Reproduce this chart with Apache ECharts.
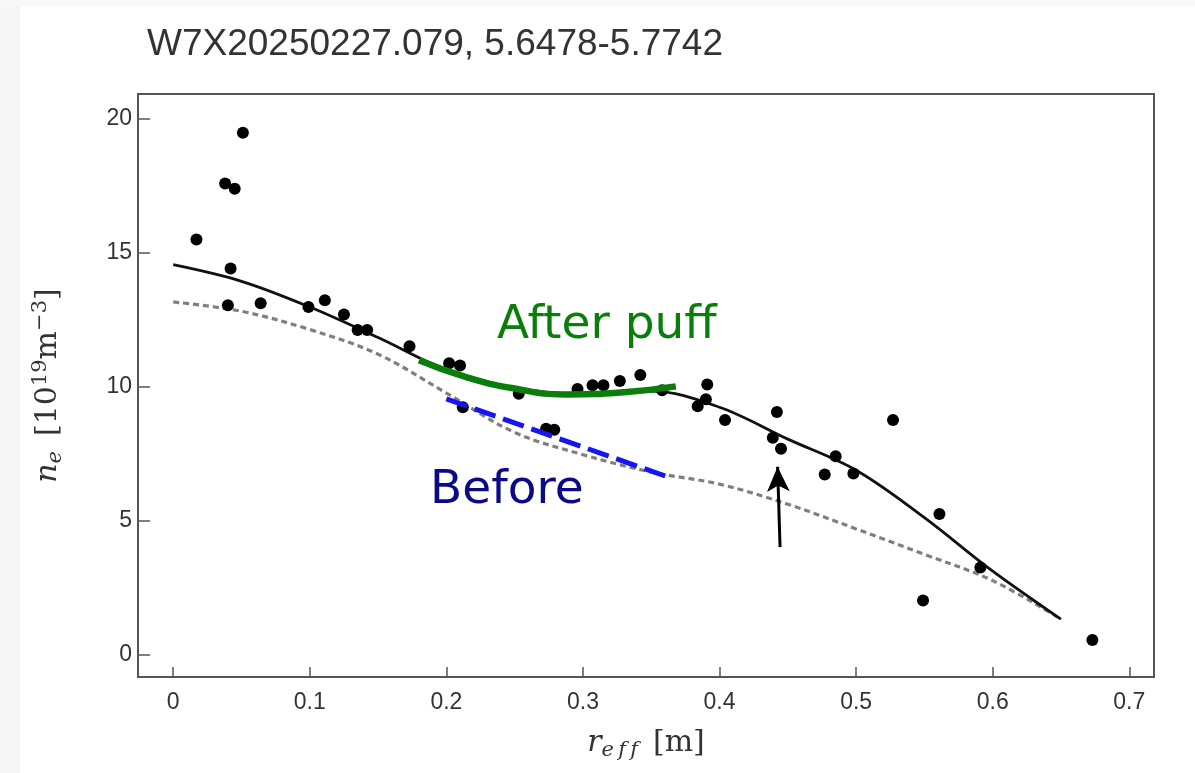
<!DOCTYPE html>
<html>
<head>
<meta charset="utf-8">
<script src="https://cdn.jsdelivr.net/npm/echarts@6/dist/echarts.min.js"></script>
<style>
html, body { margin: 0; padding: 0; background: #fff; }
#main { width: 1195px; height: 773px; }
</style>
</head>
<body>
<div id="main"></div>
<script>
// tick labels
var xTicks = [0, 0.1, 0.2, 0.3, 0.4, 0.5, 0.6, 0.7];
var yTicks = [0, 5, 10, 15, 20];

// measured points (r_eff, n_e)
var measR  = [0.017, 0.038, 0.045, 0.051, 0.042, 0.040, 0.064, 0.099, 0.111, 0.125, 0.135, 0.142, 0.173, 0.202, 0.210, 0.212,
              0.253, 0.273, 0.279, 0.296, 0.307, 0.315, 0.327, 0.342, 0.358, 0.384, 0.391, 0.390, 0.404, 0.442, 0.439, 0.445,
              0.477, 0.485, 0.498, 0.527, 0.549, 0.561, 0.591, 0.673];
var measNe = [15.48, 17.57, 17.37, 19.46, 14.40, 13.03, 13.10, 12.96, 13.21, 12.68, 12.10, 12.10, 11.50, 10.86, 10.78, 9.22,
              9.72, 8.42, 8.38, 9.90, 10.04, 10.04, 10.20, 10.42, 9.85, 9.26, 10.07, 9.52, 8.74, 9.04, 8.08, 7.67,
              6.71, 7.39, 6.75, 8.74, 2.01, 5.24, 3.24, 0.53];

// fit after puff (solid black)
var fitR  = [0, 0.05, 0.10, 0.15, 0.20, 0.25, 0.30, 0.35, 0.40, 0.45, 0.50, 0.55, 0.60, 0.65];
var fitNe = [14.54, 13.92, 12.96, 11.82, 10.62, 9.93, 9.72, 9.82, 9.22, 8.03, 6.87, 5.10, 3.10, 1.31];

// fit before puff (grey dotted)
var preR  = [0, 0.05, 0.10, 0.15, 0.20, 0.25, 0.30, 0.35, 0.40, 0.45, 0.50, 0.55, 0.60, 0.65];
var preNe = [13.15, 12.80, 12.12, 11.20, 9.75, 8.28, 7.45, 6.80, 6.35, 5.60, 4.68, 3.73, 2.75, 1.31];

// highlighted segments
var afterR  = [0.180, 0.214, 0.250, 0.287, 0.330, 0.368];
var afterNe = [10.97, 10.35, 9.92, 9.70, 9.78, 10.00];
var beforeR  = [0.200, 0.361];
var beforeNe = [9.53, 6.64];

// annotations
var noteText = ['After puff', 'Before'];
var noteR    = [0.237, 0.188];
var noteNe   = [12.25, 6.10];
var arrowFrom = [0.4443, 4.0];
var arrowTo   = [0.4425, 7.0];

function pairs(xs, ys) {
    return xs.map(function (x, i) { return [x, ys[i]]; });
}

var chart = echarts.init(document.getElementById('main'));

var serif = 'DejaVu Serif';
var axisColor = '#555';
var txt = '#333';

var nameRich = {
    it:  { fontFamily: serif, fontStyle: 'italic', fontSize: 30, lineHeight: 36, color: txt },
    sub: { fontFamily: serif, fontStyle: 'italic', fontSize: 21, lineHeight: 18, verticalAlign: 'bottom', color: txt },
    sup: { fontFamily: serif, fontSize: 21, lineHeight: 18, verticalAlign: 'top', color: txt },
    rm:  { fontFamily: serif, fontSize: 30, lineHeight: 36, color: txt }
};

function noteSeries(i, color) {
    return {
        name: noteText[i],
        type: 'scatter',
        symbolSize: 0,
        silent: true,
        data: [[noteR[i], noteNe[i]]],
        itemStyle: { opacity: 1 },
        label: {
            show: true,
            position: 'right',
            distance: 0,
            formatter: noteText[i],
            fontFamily: 'DejaVu Sans',
            fontSize: 47,
            color: color
        },
        z: 6
    };
}

chart.setOption({
    animation: false,
    backgroundColor: '#fff',
    title: {
        text: 'W7X20250227.079, 5.6478-5.7742',
        left: 142,
        top: 21,
        textStyle: { fontFamily: 'Liberation Sans', fontSize: 37, fontWeight: 'normal', color: txt }
    },
    graphic: [
        { type: 'rect', z: -10, shape: { x: 0, y: 0, width: 20, height: 773 }, style: { fill: '#f6f6f6' } },
        { type: 'rect', z: -10, shape: { x: 0, y: 0, width: 1195, height: 6 }, style: { fill: '#f8f8f8' } }
    ],
    grid: {
        left: 138, right: 41, top: 94, bottom: 96,
        show: true, borderColor: axisColor, borderWidth: 2
    },
    xAxis: {
        type: 'value',
        min: -0.0258, max: 0.7181,
        splitLine: { show: false },
        axisLine: { show: false, onZero: false },
        axisTick: { show: true, inside: true, length: 10, customValues: xTicks, lineStyle: { color: axisColor, width: 1.5 } },
        axisLabel: {
            customValues: xTicks, margin: 14,
            fontFamily: 'Liberation Sans', fontSize: 23, color: txt,
            formatter: function (v) { return String(Math.round(v * 10) / 10); }
        },
        name: '{it|r}{sub|e\u2009f\u2009f}{rm|\u2002[m]}',
        nameLocation: 'middle',
        nameGap: 48,
        nameTextStyle: { rich: nameRich }
    },
    yAxis: {
        type: 'value',
        min: -0.847, max: 20.91,
        splitLine: { show: false },
        axisLine: { show: false, onZero: false },
        axisTick: { show: true, inside: true, length: 12, customValues: yTicks, lineStyle: { color: axisColor, width: 1.5 } },
        axisLabel: {
            customValues: yTicks, margin: 6,
            fontFamily: 'Liberation Sans', fontSize: 23, color: txt
        },
        name: '{it|n}{sub|e}{rm|\u2002[10}{sup|19}{rm|m}{sup|\u22123}{rm|]}',
        nameLocation: 'middle',
        nameGap: 72,
        nameRotate: 90,
        nameTextStyle: { rich: nameRich }
    },
    series: [
        {
            name: 'before',
            type: 'line',
            data: pairs(preR, preNe),
            smooth: 0.35,
            showSymbol: false,
            silent: true,
            lineStyle: { color: '#7f7f7f', width: 3.2, type: [6, 4] },
            z: 2
        },
        {
            name: 'after',
            type: 'line',
            data: pairs(fitR, fitNe),
            smooth: 0.35,
            showSymbol: false,
            silent: true,
            lineStyle: { color: '#111', width: 2.8 },
            z: 3
        },
        {
            name: 'measured',
            type: 'scatter',
            data: pairs(measR, measNe),
            symbolSize: 12,
            itemStyle: { color: '#000', opacity: 1 },
            z: 4
        },
        {
            name: 'after puff',
            type: 'line',
            data: pairs(afterR, afterNe),
            smooth: 0.5,
            showSymbol: false,
            silent: true,
            lineStyle: { color: '#0b7d0b', width: 6.5, cap: 'butt' },
            z: 5
        },
        {
            name: 'before puff',
            type: 'line',
            data: pairs(beforeR, beforeNe),
            showSymbol: false,
            silent: true,
            lineStyle: { color: '#1515f0', width: 5, type: [22, 8] },
            z: 5,
            markLine: {
                silent: true,
                symbol: ['none', 'arrow'],
                symbolSize: [17, 25],
                label: { show: false },
                lineStyle: { color: '#000', width: 3, type: 'solid' },
                data: [[{ coord: arrowFrom }, { coord: arrowTo }]]
            }
        },
        noteSeries(0, '#0b7d0b'),
        noteSeries(1, '#0a0a86')
    ]
});
</script>
</body>
</html>
